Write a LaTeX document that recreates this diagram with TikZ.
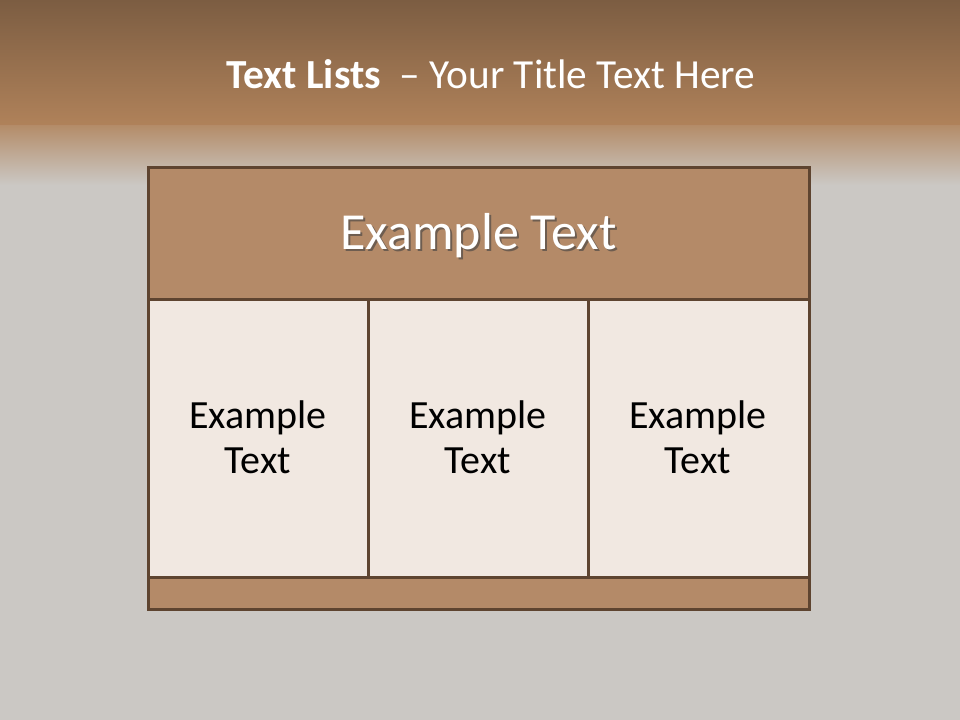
\documentclass[tikz,border=0pt]{standalone}
\usepackage{fontspec}
\setmainfont{Carlito}
\usepackage{xcolor}
\usepackage{tikz}
\usetikzlibrary{positioning}
\definecolor{bandtop}{RGB}{124, 93, 66}
\definecolor{bandbot}{RGB}{176, 130, 90}
\definecolor{slidegray}{RGB}{203, 200, 196}
\definecolor{tanfill}{RGB}{180, 138, 104}
\definecolor{cellfill}{RGB}{241, 232, 225}
\definecolor{edgebrown}{RGB}{94, 68, 48}

\begin{document}
\begin{tikzpicture}[x=0.75pt, y=-0.75pt,
    boxline/.style={draw=edgebrown, line width=2.25pt},
    celltext/.style={align=center, font=\fontsize{30}{34}\selectfont, text=black}]
        % Background
        \fill[slidegray] (0,0) rectangle (960,720);
        \useasboundingbox (0,0) rectangle (960,720);
        \shade[top color=bandtop, bottom color=bandbot] (0,0) rectangle (960,126);
        \shade[top color=bandbot!85!slidegray, bottom color=slidegray] (0,126) rectangle (960,185);

        % Title
        \node[text=white, font=\fontsize{31}{37}\selectfont, anchor=base] (title) at (491,89)
            {\textbf{Text Lists}\ \ – Your Title Text Here};

        % Table rows
        \draw[boxline, fill=tanfill] (148,168) rectangle (809,300);
        \draw[boxline, fill=cellfill] (148,300) rectangle (368,577);
        \draw[boxline, fill=cellfill] (368,300) rectangle (588,577);
        \draw[boxline, fill=cellfill] (588,300) rectangle (809,577);
        \draw[boxline, fill=tanfill] (148,577) rectangle (809,609);

        % Header text with shadow
        \node[text=black!75, opacity=0.6, font=\fontsize{39}{46}\selectfont, anchor=base] (headshadow) at (480.5,251.5) {Example Text};
        \node[text=white, font=\fontsize{39}{46}\selectfont, anchor=base] (head) at (478.5,250) {Example Text};

        % Cell texts
        \node[celltext] (cellA) at (258,437) {Example\\Text};
        \node[celltext] (cellB) at (478,437) {Example\\Text};
        \node[celltext] (cellC) at (698,437) {Example\\Text};
    \end{tikzpicture}
\end{document}
